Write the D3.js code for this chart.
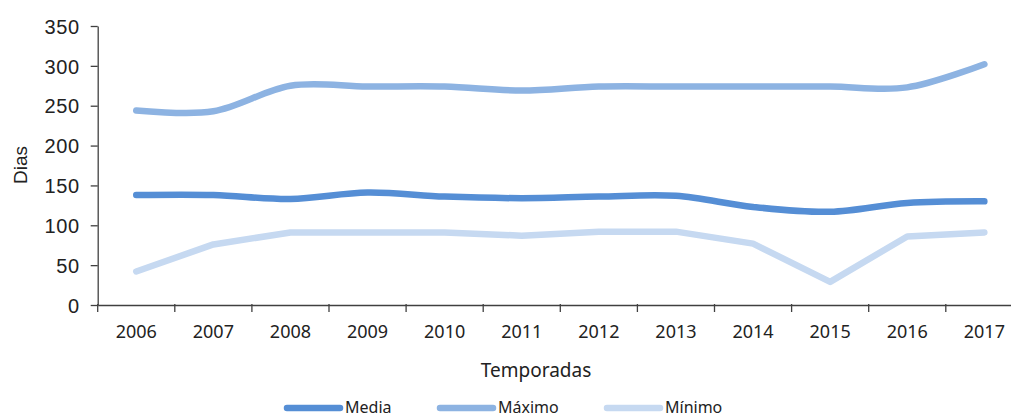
<!DOCTYPE html>
<html>
<head>
<meta charset="utf-8">
<script src="https://cdn.jsdelivr.net/npm/d3@7"></script>
<style>
  body { margin: 0; background: #fff; }
  svg { display: block; }
</style>
</head>
<body>
<svg id="drawing_region"></svg>
<script>
const years = ["2006","2007","2008","2009","2010","2011","2012","2013","2014","2015","2016","2017"];
const media  = [138, 138, 133, 141, 136, 134, 136, 137, 123, 117, 128, 130];
const maximo = [244, 243, 275, 274, 274, 269, 274, 274, 274, 274, 273, 302];
const minimo = [42, 76, 91, 91, 91, 87, 92, 92, 77, 29, 86, 91];
const yTicks = [0, 50, 100, 150, 200, 250, 300, 350];

const series = [
    {name: "Media",  values: media,  color: "#558ED5", curve: d3.curveCardinal.tension(0)},
    {name: "Máximo", values: maximo, color: "#8DB3E2", curve: d3.curveCardinal.tension(0)},
    {name: "Mínimo", values: minimo, color: "#C6D9F1", curve: d3.curveLinear}
];

const width = 1011, height = 418;
const svg = d3.select('#drawing_region')
    .attr('width', width)
    .attr('height', height);

const xscale = d3.scaleBand()
    .domain(years)
    .range([97.7, 1022.9])
    .padding(0);

const yscale = d3.scaleLinear()
    .domain([0, 350])
    .range([305, 26]);

// y axis
const yaxis = d3.axisLeft(yscale)
    .tickValues(yTicks)
    .tickSize(7)
    .tickSizeOuter(0);

const yg = svg.append('g')
    .attr('transform', `translate(${xscale.range()[0]},0)`)
    .call(yaxis);
yg.select('.domain').attr('stroke', '#404040').attr('stroke-width', 1.3);
yg.selectAll('.tick line').attr('stroke', '#404040').attr('stroke-width', 1.3);
yg.selectAll('.tick text')
    .attr('x', -18)
    .attr('dy', '0.36em')
    .attr('fill', '#222')
    .style('font-family', '"Liberation Sans", Arial, sans-serif')
    .style('font-size', '20px')
    .style('letter-spacing', '0.6px');

// x axis
const xaxis = d3.axisBottom(xscale)
    .tickSize(7)
    .tickSizeOuter(0);

const xg = svg.append('g')
    .attr('transform', `translate(0,${yscale(0)})`)
    .call(xaxis);
xg.select('.domain').attr('stroke', '#404040').attr('stroke-width', 1.3);
// tick marks at band boundaries
xg.selectAll('.tick line')
    .attr('x1', -xscale.bandwidth() / 2)
    .attr('x2', -xscale.bandwidth() / 2)
    .attr('y1', -1)
    .attr('y2', 7)
    .attr('stroke', '#404040')
    .attr('stroke-width', 1.3);
xg.selectAll('.tick text')
    .attr('y', 20)
    .attr('dy', '0.71em')
    .attr('fill', '#222')
    .style('font-family', '"Noto Sans", "Open Sans", sans-serif')
    .style('font-size', '18px');

// axis titles
svg.append('text')
    .attr('x', 536)
    .attr('y', 377)
    .attr('text-anchor', 'middle')
    .attr('fill', '#222')
    .style('font-family', '"Noto Sans", "Open Sans", sans-serif')
    .style('font-size', '19px')
    .text('Temporadas');

svg.append('text')
    .attr('transform', 'translate(27,165) rotate(-90)')
    .attr('text-anchor', 'middle')
    .attr('fill', '#222')
    .style('font-family', '"Liberation Sans", Arial, sans-serif')
    .style('font-size', '19px')
    .text('Dias');

// lines
const plot = svg.append('g');
series.slice().reverse().forEach(s => {
    const line = d3.line()
        .x((d, i) => xscale(years[i]) + xscale.bandwidth() / 2)
        .y(d => yscale(d))
        .curve(s.curve);
    plot.append('path')
        .attr('d', line(s.values))
        .attr('fill', 'none')
        .attr('stroke', s.color)
        .attr('stroke-width', 6.5)
        .attr('stroke-linecap', 'round')
        .attr('stroke-linejoin', 'round');
});

// legend
const legendX = [287, 440, 607];
const legend = svg.append('g');
series.forEach((s, i) => {
    const g = legend.append('g').attr('transform', `translate(${legendX[i]},408)`);
    g.append('line')
        .attr('x1', 0).attr('x2', 53)
        .attr('y1', 0).attr('y2', 0)
        .attr('stroke', s.color)
        .attr('stroke-width', 6.5)
        .attr('stroke-linecap', 'round');
    g.append('text')
        .attr('x', 58)
        .attr('y', 5)
        .attr('fill', '#222')
        .style('font-family', '"Noto Sans", "Open Sans", sans-serif')
        .style('font-size', '16px')
        .text(s.name);
});
</script>
</body>
</html>
